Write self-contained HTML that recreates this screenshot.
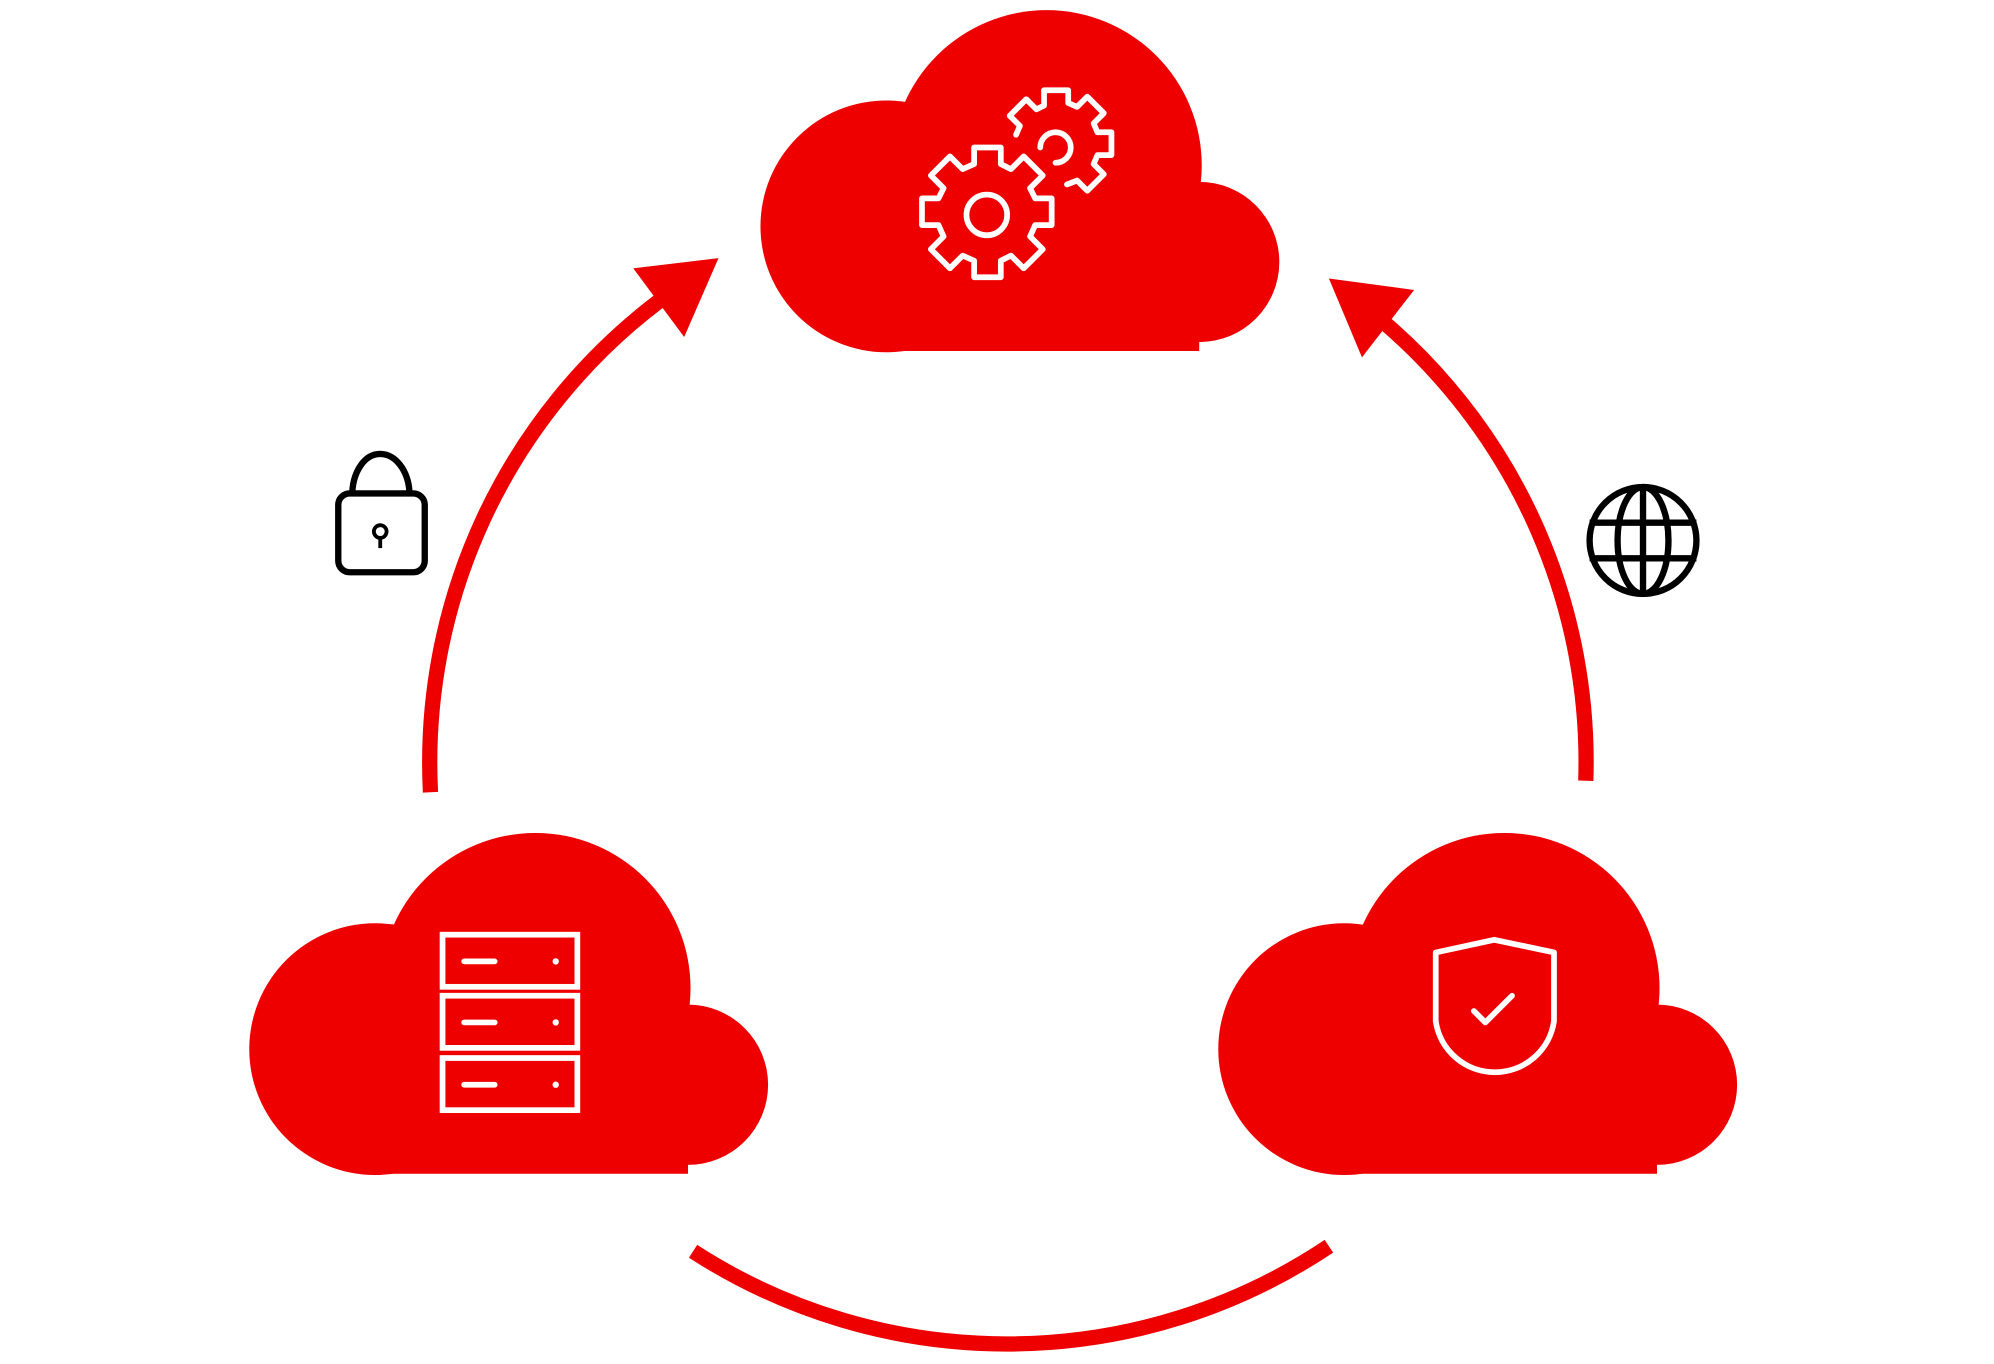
<!DOCTYPE html>
<html><head><meta charset="utf-8"><style>
html,body{margin:0;padding:0;background:#fff;}
svg{display:block;}
</style></head><body>
<svg width="1994" height="1364" viewBox="0 0 1568 1072.6" xmlns="http://www.w3.org/2000/svg">
<defs>
<g id="cloud">
<circle cx="823" cy="130" r="122"/>
<circle cx="697" cy="178" r="99"/>
<circle cx="943" cy="206" r="63"/>
<rect x="697" y="130" width="246" height="146"/>
</g>
</defs>
<g fill="#ee0000">
<use href="#cloud"/>
<use href="#cloud" transform="translate(-402,647)"/>
<use href="#cloud" transform="translate(360,647)"/>
</g>
<!-- arcs -->
<g fill="none" stroke="#ee0000" stroke-width="12">
<path d="M338.5 623 A455 455 0 0 1 518 237"/>
<path d="M1247 614 A455 455 0 0 0 1090 255"/>
<path d="M545 984 A455 455 0 0 0 1045 980"/>
</g>
<polygon points="565,203 498,211 538,265" fill="#ee0000"/>
<polygon points="1045,219 1112,228 1071,281" fill="#ee0000"/>
<!-- lock -->
<g fill="none" stroke="#000" stroke-width="5" stroke-linejoin="round">
<path d="M277 387 C278 370 287 357 299 357 C311 357 321 370 322 387"/>
<rect x="266" y="388" width="68" height="62" rx="9"/>
<circle cx="299" cy="418" r="5" stroke-width="3"/>
<line x1="299" y1="423" x2="299" y2="431" stroke-width="3"/>
</g>
<!-- globe -->
<g fill="none" stroke="#000" stroke-width="5">
<circle cx="1292" cy="425" r="42"/>
<ellipse cx="1292" cy="425" rx="20" ry="42"/>
<line x1="1292" y1="383" x2="1292" y2="467"/>
<line x1="1250" y1="411" x2="1334" y2="411"/>
<line x1="1250" y1="439" x2="1334" y2="439"/>
</g>
<!-- gears -->
<g fill="none" stroke="#fff" stroke-width="4.5" stroke-linejoin="round" stroke-linecap="round">
<circle cx="776" cy="169" r="16"/>
<path d="M766 116 h21 v13 l8 4 l10 -10 l15 15 l-10 10 l4 8 h13 v21 h-13 l-4 9 l10 10 l-15 15 l-10 -10 l-8 4 v13 h-21 v-13 l-9 -4 l-10 10 l-15 -15 l10 -10 l-4 -9 h-13 v-21 h13 l4 -8 l-10 -10 l15 -15 l10 10 l9 -4 z"/>
<path d="M818 116 a12 12 0 1 1 12 12"/>
<path d="M821 71 h19 v10 l7 3 l8 -8 l13 13 l-8 8 l3 7 h11 v18 h-11 l-3 7 l8 8 l-13 13 l-8 -8 l-8 3"/>
<path d="M799 106 l3 -7 l-8 -8 l13 -13 l8 8 l6 -3 v-12"/>
</g>
<!-- server -->
<g fill="none" stroke="#fff" stroke-width="4.5" stroke-linecap="round">
<rect x="348" y="735" width="106" height="41"/>
<rect x="348" y="783" width="106" height="41"/>
<rect x="348" y="832" width="106" height="41"/>
<line x1="365" y1="756" x2="389" y2="756"/>
<line x1="365" y1="804" x2="389" y2="804"/>
<line x1="365" y1="853" x2="389" y2="853"/>
</g>
<g fill="#fff"><circle cx="437" cy="756" r="2.5"/><circle cx="437" cy="804" r="2.5"/><circle cx="437" cy="853" r="2.5"/></g>
<!-- shield -->
<g fill="none" stroke="#fff" stroke-width="4.5" stroke-linejoin="round" stroke-linecap="round">
<path d="M1129 749 L1175 739 L1222 749 V803 A47 47 0 0 1 1129 803 Z"/>
<path d="M1159 795 l9 9 l21 -21"/>
</g>
</svg>
</body></html>
